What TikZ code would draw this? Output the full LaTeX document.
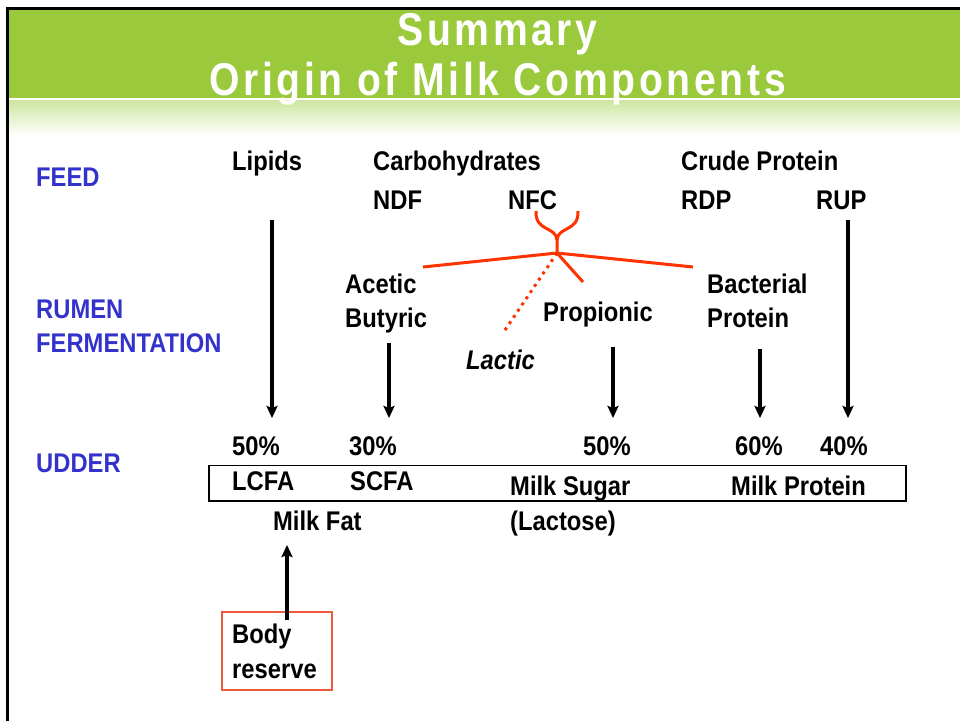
\documentclass[tikz,border=0pt]{standalone}
\usepackage{fontspec}
\setmainfont{Liberation Sans}
\newfontfamily\narrowfont{Liberation Sans}[FakeStretch=0.88]
\newfontfamily\titlefont{Liberation Sans}[FakeStretch=0.85,LetterSpace=8]
\usetikzlibrary{arrows.meta}
\definecolor{bargreen}{RGB}{154,202,60}
\definecolor{fadegreen}{RGB}{206,230,160}
\definecolor{rowblue}{RGB}{51,51,204}
\definecolor{fermred}{RGB}{255,51,0}
\definecolor{boxred}{RGB}{240,90,60}

\begin{document}
\begin{tikzpicture}[x=1pt,y=-1pt,>={Stealth[length=12pt,width=11pt,inset=2pt]},
  lbl/.style={anchor=base west,inner sep=0pt,font=\narrowfont\bfseries\fontsize{27}{30}\selectfont},
  rowlbl/.style={lbl,text=rowblue},
  titletxt/.style={anchor=base,inner sep=0pt,text=white,font=\titlefont\bfseries\fontsize{46}{50}\selectfont},
  flow/.style={->,line width=3.5pt},
  ferm/.style={draw=fermred,line width=3pt,line join=round}]
  \useasboundingbox (0,0) rectangle (960,721);

  % 标题栏
  \fill[bargreen] (9,10) rectangle (960,97.5);
  \shade[top color=fadegreen,bottom color=white] (9,100) rectangle (960,136);
  \draw[line width=3pt] (7.5,721) -- (7.5,8.5) -- (960,8.5);
  \node[titletxt] (summary) at (497.5,45) {Summary};
  \node[titletxt] (origin) at (497.5,95) {Origin of Milk Components};

  % 左侧分层
  \node[rowlbl] (feed) at (36,186) {FEED};
  \node[rowlbl] (rumen) at (36,318) {RUMEN};
  \node[rowlbl] (ferment) at (36,352) {FERMENTATION};
  \node[rowlbl] (udder) at (36,472) {UDDER};

  % 饲料
  \node[lbl] (lipids) at (232,170) {Lipids};
  \node[lbl] (carbo) at (373,170) {Carbohydrates};
  \node[lbl] (crude) at (681,170) {Crude Protein};
  \node[lbl] (ndf) at (373,209) {NDF};
  \node[lbl] (nfc) at (508,209) {NFC};
  \node[lbl] (rdp) at (681,209) {RDP};
  \node[lbl] (rup) at (816,209) {RUP};

  % 瘤胃发酵
  \node[lbl] (acetic) at (345,293) {Acetic};
  \node[lbl] (butyric) at (345,327) {Butyric};
  \node[lbl,font=\narrowfont\bfseries\itshape\fontsize{27}{30}\selectfont] (lactic) at (466,369) {Lactic};
  \node[lbl] (propionic) at (543,321) {Propionic};
  \node[lbl] (bacterial) at (707,293) {Bacterial};
  \node[lbl] (bactprot) at (707,327) {Protein};

  % 乳房
  \node[lbl] (pctA) at (232,455) {50\%};
  \node[lbl] (pctB) at (349,455) {30\%};
  \node[lbl] (pctC) at (583,455) {50\%};
  \node[lbl] (pctD) at (735,455) {60\%};
  \node[lbl] (pctE) at (820,455) {40\%};
  \draw[line width=1.5pt] (209,465.5) rectangle (906,501);
  \node[lbl] (lcfa) at (232,490) {LCFA};
  \node[lbl] (scfa) at (350,490) {SCFA};
  \node[lbl] (sugar) at (510,495) {Milk Sugar};
  \node[lbl] (protein) at (731,495) {Milk Protein};
  \node[lbl] (fat) at (273,530) {Milk Fat};
  \node[lbl] (lactose) at (510,530) {(Lactose)};

  % 体储备
  \node[draw=boxred,line width=1.5pt,anchor=north west,minimum width=110pt,minimum height=78pt,inner sep=0pt] (reserve) at (221,611) {};
  \node[lbl] (body) at (232,643) {Body};
  \node[lbl] (bodyres) at (232,678) {reserve};

  % 向下箭头
  \coordinate (lipT) at (272,220);
  \coordinate (lipB) at (272,418);
  \coordinate (aceT) at (389,343);
  \coordinate (aceB) at (389,418);
  \coordinate (proT) at (613,347);
  \coordinate (proB) at (613,418);
  \coordinate (bacT) at (760,349);
  \coordinate (bacB) at (760,418);
  \coordinate (rupT) at (848,220);
  \coordinate (rupB) at (848,418);
  \draw[flow] (lipT) -- (lipB);
  \draw[flow] (aceT) -- (aceB);
  \draw[flow] (proT) -- (proB);
  \draw[flow] (bacT) -- (bacB);
  \draw[flow] (rupT) -- (rupB);

  % 向上箭头 (体储备 -> 乳脂)
  \coordinate (fatB) at (287,545);
  \draw[flow] (reserve.north -| fatB) ++(0,9) -- (fatB);

  % 发酵分支
  \coordinate (J) at (557,253);
  \coordinate (Ja) at (423,267);
  \coordinate (Jb) at (693,267);
  \coordinate (Jc) at (583,282);
  \coordinate (Jd) at (503,333);
  \coordinate (Bl) at (536,211);
  \coordinate (Br) at (578,211);
  \draw[ferm] (Ja) -- (J) -- (Jb);
  \draw[ferm] (J) -- (Jc);
  \draw[ferm,dash pattern=on 3pt off 4.5pt] (J) -- (Jd);
  \draw[ferm] (Bl) .. controls (535,232) and (556,226) .. (557,240) -- (J);
  \draw[ferm] (Br) .. controls (579,232) and (558,226) .. (557,240);
\end{tikzpicture}
\end{document}
